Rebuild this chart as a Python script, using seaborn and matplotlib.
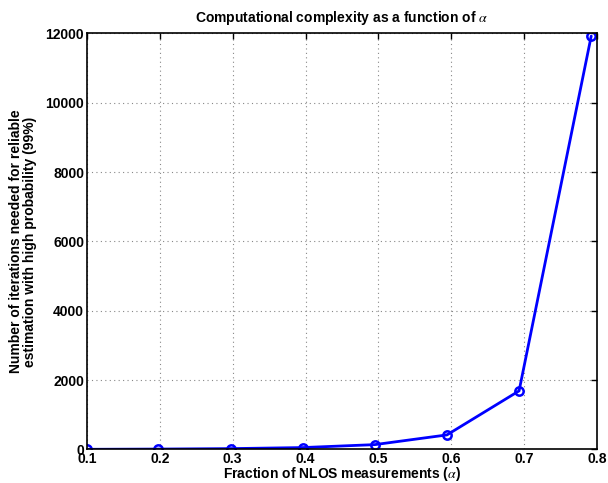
import matplotlib
matplotlib.use("Agg")
import matplotlib.pyplot as plt
import seaborn as sns
import pandas as pd

alpha = [0.1, 0.198, 0.298, 0.396, 0.495, 0.594, 0.693, 0.792]
iterations = [5, 12, 25, 55, 140, 420, 1690, 11920]
xticks = [0.1, 0.2, 0.3, 0.4, 0.5, 0.6, 0.7, 0.8]
yticks = [0, 2000, 4000, 6000, 8000, 10000, 12000]

sns.set_theme(style="white")
plt.rcParams["font.family"] = ["Liberation Sans", "DejaVu Sans"]
plt.rcParams["mathtext.fontset"] = "stix"
plt.rcParams["text.color"] = "black"
plt.rcParams["axes.labelcolor"] = "black"
plt.rcParams["xtick.color"] = "black"
plt.rcParams["ytick.color"] = "black"

df = pd.DataFrame({"alpha": alpha, "iterations": iterations})

fig = plt.figure(figsize=(6.08, 4.83), dpi=100)
ax = fig.add_axes([0.143, 0.0694, 0.839, 0.8617])
sns.lineplot(data=df, x="alpha", y="iterations", ax=ax, color=(0, 0, 1),
             linewidth=2, marker="o", markersize=6, markerfacecolor="none",
             markeredgecolor=(0, 0, 1), markeredgewidth=1.8)

ax.set_xlim(0.1, 0.8)
ax.set_ylim(0, 12000)
ax.set_xticks(xticks)
ax.set_xticklabels([f"{v:.1f}" for v in xticks])
ax.set_yticks(yticks)
ax.set_yticklabels([str(v) for v in yticks])
ax.grid(True, linestyle=(0, (1, 3)), color="#888888", linewidth=0.8)
ax.tick_params(direction="in", length=4, width=1, top=True, right=True,
               labelsize=10, pad=2, color="black", labelcolor="black")
for lab in ax.get_xticklabels() + ax.get_yticklabels():
    lab.set_fontweight("bold")
for s in ax.spines.values():
    s.set_color("black")
    s.set_linewidth(1.2)

ax.set_xlabel(r"Fraction of NLOS measurements ($\alpha$)", fontsize=10,
              fontweight="bold", labelpad=-1, color="black")
ax.set_ylabel("Number of iterations needed for reliable\nestimation with high probability (99%)",
              fontsize=10, fontweight="bold", labelpad=6, linespacing=1.0, color="black")
ax.set_title(r"Computational complexity as a function of $\alpha$", fontsize=10,
             fontweight="bold", pad=8, color="black")

fig.savefig("out.png", dpi=100)
